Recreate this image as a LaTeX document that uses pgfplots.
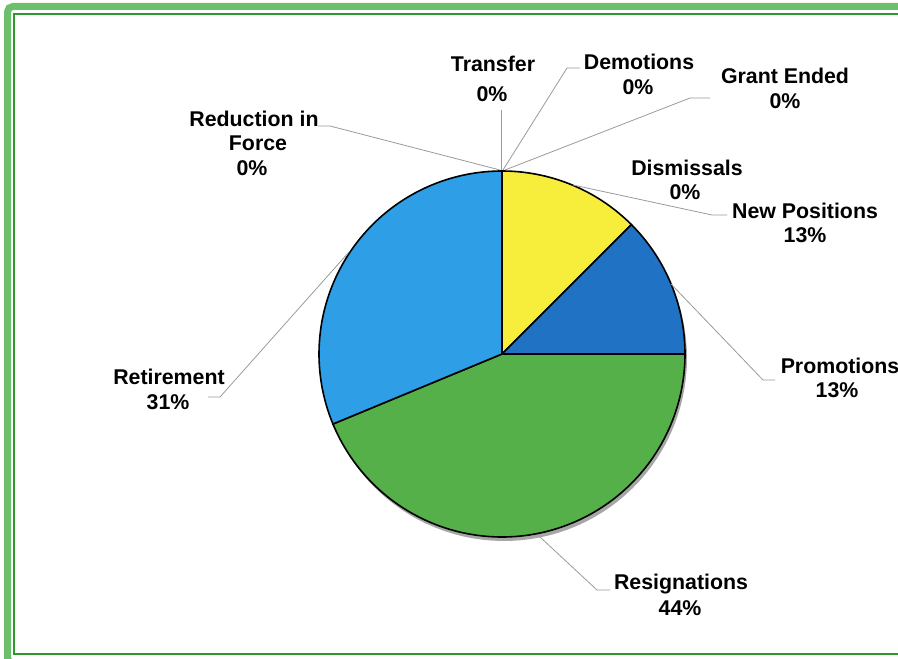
\documentclass[border=0pt]{standalone}
\usepackage{pgfplots}
\pgfplotsset{compat=1.18}
\usepackage{fontspec}
\setmainfont{Liberation Sans}
\definecolor{cNew}{HTML}{F7EE3C}
\definecolor{cProm}{HTML}{1F72C4}
\definecolor{cRes}{HTML}{55B04A}
\definecolor{cRet}{HTML}{2E9FE6}
\definecolor{frameA}{HTML}{6CC06C}
\definecolor{frameB}{HTML}{2E9A2E}
\definecolor{lead}{HTML}{9A9A9A}
\tikzset{lbl/.style={font=\bfseries\fontsize{16}{19}\selectfont, anchor=base, inner sep=0pt}}
\begin{document}
\begin{tikzpicture}
\begin{axis}[
  scale only axis, width=673.5pt, height=493.5pt,
  xmin=0, xmax=898, ymin=-658, ymax=0,
  hide axis, clip=false,
]
% frame
\draw[frameA, line width=5.25pt, rounded corners=4pt] (axis cs:7.5,-6.5) rectangle (axis cs:910,-663);
\draw[frameB, line width=1.1pt] (axis cs:14,-14) rectangle (axis cs:910,-654);
% shadow
\addplot[draw=none, fill=black!35, domain=0:360, samples=120] ({504+183*cos(x)},{-358+183*sin(x)}) -- cycle;
% slices: New Positions 12.5%, Promotions 12.5%, Resignations 43.75%, Retirement 31.25%
\addplot[fill=cNew, draw=black, line width=1.2pt, domain=45:90, samples=60] ({502+183*cos(x)},{-354+183*sin(x)}) -- (axis cs:502,-354) -- cycle;
\addplot[fill=cProm, draw=black, line width=1.2pt, domain=0:45, samples=60] ({502+183*cos(x)},{-354+183*sin(x)}) -- (axis cs:502,-354) -- cycle;
\addplot[fill=cRes, draw=black, line width=1.2pt, domain=-157.5:0, samples=120] ({502+183*cos(x)},{-354+183*sin(x)}) -- (axis cs:502,-354) -- cycle;
\addplot[fill=cRet, draw=black, line width=1.2pt, domain=90:202.5, samples=100] ({502+183*cos(x)},{-354+183*sin(x)}) -- (axis cs:502,-354) -- cycle;
% leader lines
\draw[lead, line width=0.6pt] (axis cs:318,-126) -- (axis cs:330,-126) -- (axis cs:500,-170);
\draw[lead, line width=0.6pt] (axis cs:501,-110) -- (axis cs:501,-170);
\draw[lead, line width=0.6pt] (axis cs:580,-68) -- (axis cs:567,-68) -- (axis cs:503,-170);
\draw[lead, line width=0.6pt] (axis cs:710,-98) -- (axis cs:690,-98) -- (axis cs:505,-170);
\draw[lead, line width=0.6pt] (axis cs:573,-185) -- (axis cs:712,-215) -- (axis cs:727,-215);
\draw[lead, line width=0.6pt] (axis cs:671,-284) -- (axis cs:763,-380) -- (axis cs:775,-380);
\draw[lead, line width=0.6pt] (axis cs:540,-537) -- (axis cs:597,-590) -- (axis cs:610,-590);
\draw[lead, line width=0.6pt] (axis cs:349,-252) -- (axis cs:220,-397) -- (axis cs:208,-397);
% labels
\node[lbl] at (axis cs:493,-72) {Transfer};
\node[lbl] at (axis cs:492,-102) {0\%};
\node[lbl] at (axis cs:639,-70) {Demotions};
\node[lbl] at (axis cs:638,-95) {0\%};
\node[lbl] at (axis cs:785,-84) {Grant Ended};
\node[lbl] at (axis cs:785,-109) {0\%};
\node[lbl] at (axis cs:254,-127) {Reduction in};
\node[lbl] at (axis cs:258,-151) {Force};
\node[lbl] at (axis cs:252,-175) {0\%};
\node[lbl] at (axis cs:687,-175) {Dismissals};
\node[lbl] at (axis cs:685,-199) {0\%};
\node[lbl] at (axis cs:805,-218) {New Positions};
\node[lbl] at (axis cs:805,-242) {13\%};
\node[lbl] at (axis cs:840,-373) {Promotions};
\node[lbl] at (axis cs:837,-397) {13\%};
\node[lbl] at (axis cs:169,-384) {Retirement};
\node[lbl] at (axis cs:168,-409) {31\%};
\node[lbl] at (axis cs:681,-589) {Resignations};
\node[lbl] at (axis cs:680,-615) {44\%};
\end{axis}
\pgfresetboundingbox
\path[use as bounding box] (current axis.south west) rectangle (current axis.north east);
\end{tikzpicture}
\end{document}
